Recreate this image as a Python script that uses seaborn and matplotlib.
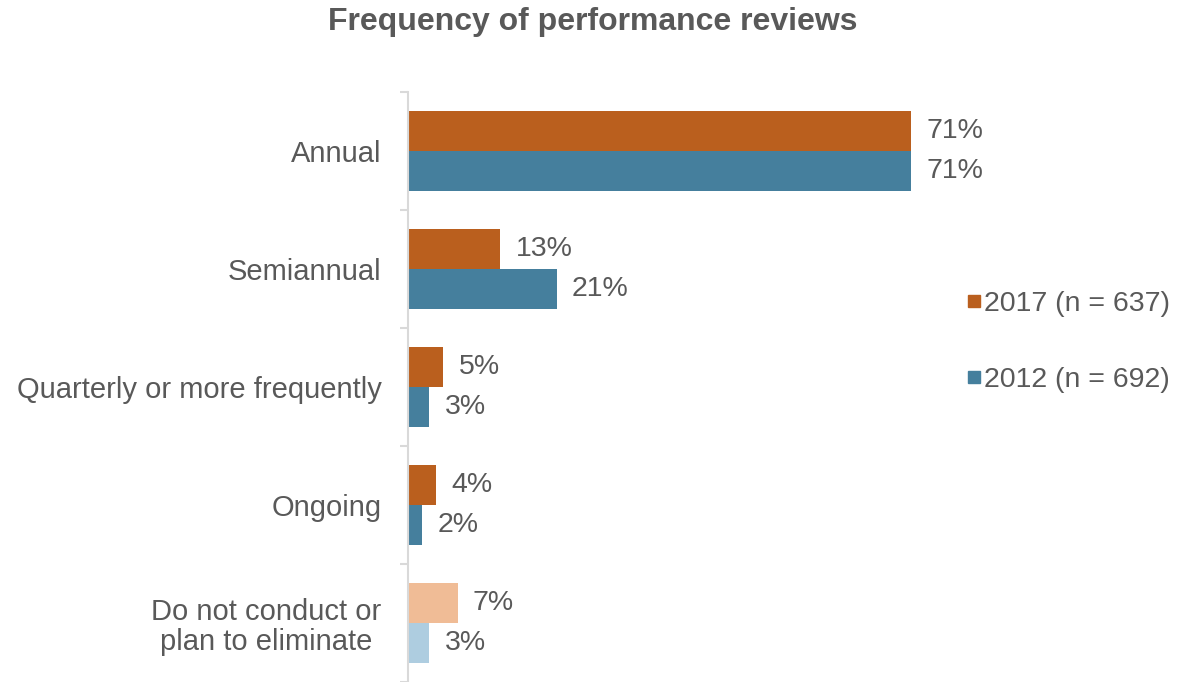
import matplotlib as mpl
import matplotlib.pyplot as plt
import numpy as np
import pandas as pd
import seaborn as sns
from matplotlib.lines import Line2D

categories = ['Annual', 'Semiannual', 'Quarterly or more frequently', 'Ongoing',
              'Do not conduct or\nplan to eliminate']
years = ['2017 (n = 637)', '2012 (n = 692)']
values_2017 = [71, 13, 5, 4, 7]
values_2012 = [71, 21, 3, 2, 3]

colors = ['#BA5F1E', '#457F9D']
light_colors = ['#F0BC96', '#AECDE0']
text_color = '#595959'

df = pd.DataFrame({
    'category': categories * 2,
    'year': [years[0]] * len(categories) + [years[1]] * len(categories),
    'value': values_2017 + values_2012,
})

sns.set_theme(style='white')
plt.rcParams['font.family'] = ['Liberation Sans', 'DejaVu Sans']

fig = plt.figure(figsize=(11.9, 6.82), dpi=100)
ax = fig.add_axes([408 / 1190, 0.0, (1000 - 408) / 1190, (685 - 95) / 682])

sns.barplot(data=df, x='value', y='category', hue='year', order=categories,
            hue_order=years, palette=colors, width=0.67, saturation=1,
            orient='h', ax=ax, legend=False, linewidth=0)

# lighter shade for the last category
for i, cont in enumerate(ax.containers):
    cont[len(categories) - 1].set_facecolor(light_colors[i])
    ax.bar_label(cont, fmt='%d%%', padding=11, fontsize=20.5, color=text_color)

ax.set_xlim(0, (1000 - 408) / 7.085)
ax.set_ylim(len(categories) - 0.5, -0.5)
ax.set_xlabel('')
ax.set_ylabel('')
ax.set_xticks([])

for s in ['top', 'right', 'bottom']:
    ax.spines[s].set_visible(False)
ax.spines['left'].set_color('#D9D9D9')
ax.spines['left'].set_linewidth(1.5)

ax.set_yticks(np.arange(len(categories)))
ax.set_yticklabels(categories, fontsize=21, color=text_color, multialignment='center',
                   linespacing=1.1)
ax.set_yticks(np.arange(len(categories) + 1) - 0.5, minor=True)
ax.tick_params(axis='y', which='major', length=0, pad=19)
ax.tick_params(axis='y', which='minor', left=True, length=6, width=1.5, color='#D9D9D9')

handles = [Line2D([], [], marker='s', linestyle='', markersize=9, color=c) for c in colors]
fig.legend(handles, years, loc='center left', bbox_to_anchor=(940 / 1190, 1 - 342 / 682),
           frameon=False, fontsize=20.5, labelcolor=text_color, handlelength=0.6,
           handletextpad=0.05, labelspacing=1.75)

fig.suptitle('Frequency of performance reviews', x=593 / 1190, y=1 - 22 / 682, va='center',
             fontsize=23, fontweight='bold', color=text_color)

fig.savefig('out.png', dpi=100)
